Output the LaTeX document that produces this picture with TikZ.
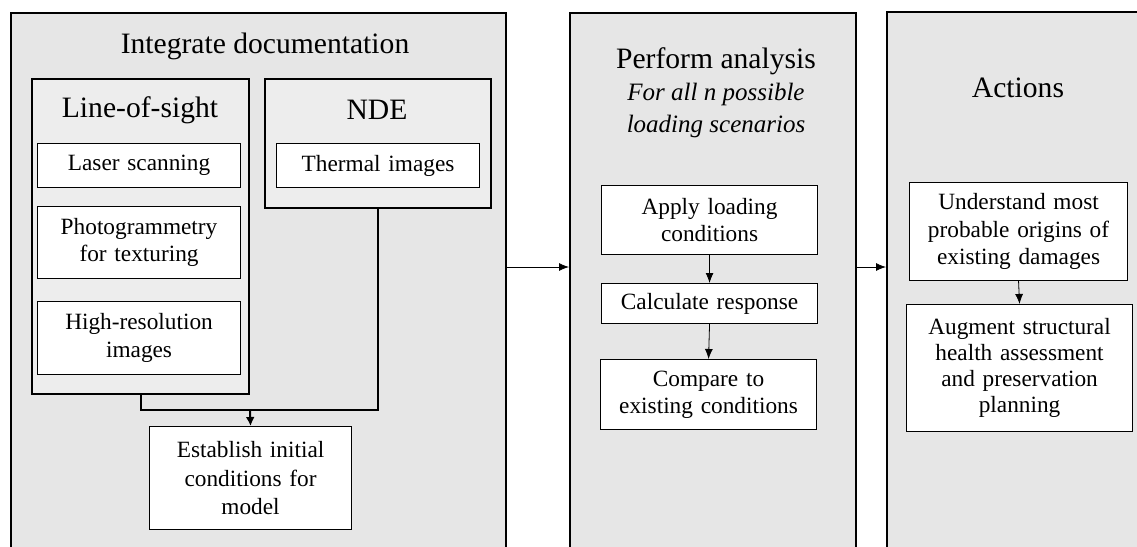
\documentclass[tikz,border=0pt]{standalone}
\usepackage{fontspec}
\setmainfont{Liberation Serif}
\usetikzlibrary{arrows.meta}
\definecolor{panelgray}{HTML}{E6E6E6}
\definecolor{innergray}{HTML}{EDEDED}
\tikzset{
  panel/.style={draw=black, line width=2pt, fill=panelgray, anchor=north west, inner sep=0pt},
  subpanel/.style={draw=black, line width=2pt, fill=innergray, anchor=north west, inner sep=0pt},
  wbox/.style={draw=black, line width=1.1pt, fill=white, anchor=north west, inner sep=0pt, align=center,
    font=\fontsize{23.3}{27.5}\selectfont},
  title/.style={font=\fontsize{29.6}{33}\selectfont, inner sep=0pt},
  subtitle/.style={font=\fontsize{25}{32}\selectfont\itshape, inner sep=0pt, align=center},
  thickline/.style={line width=2pt},
  thinarrow/.style={line width=0.8pt, -{Latex[length=10pt,width=8pt]}},
  thickarrow/.style={line width=2pt, -{Latex[length=9pt,width=9pt]}},
}
\begin{document}
\begin{tikzpicture}[x=1pt,y=1pt]
\useasboundingbox (0,0) rectangle (1137,-546);
\clip (0,0) rectangle (1137,-546);
% panels
\node[panel, minimum width=495pt, minimum height=560pt] (p1) at (10,-12) {};
\node[panel, minimum width=286pt, minimum height=560pt] (p2) at (569,-12) {};
\node[panel, minimum width=290pt, minimum height=560pt] (p3) at (886,-11) {};
% panel 1
\node[title] (t1) at (265,-46) {Integrate documentation};
\node[subpanel, minimum width=217pt, minimum height=315pt] (los) at (31,-78) {};
\node[subpanel, minimum width=226pt, minimum height=129pt] (nde) at (264,-78) {};
\node[title] (tlos) at (140,-110) {Line-of-sight};
\node[title] (tnde) at (377,-110) {NDE};
\node[wbox, minimum width=203pt, minimum height=44pt, text width=200pt] (laser) at (37,-143) {Laser scanning};
\node[wbox, minimum width=203pt, minimum height=44pt, text width=200pt] (therm) at (276,-143) {Thermal images};
\node[wbox, minimum width=203pt, minimum height=72pt, text width=200pt] (photo) at (37,-206) {Photogrammetry\\for texturing};
\node[wbox, minimum width=203pt, minimum height=73pt, text width=200pt] (hires) at (37,-301) {High-resolution\\images};
\node[wbox, minimum width=202pt, minimum height=103pt, text width=198pt, font=\fontsize{23.3}{28.5}\selectfont] (est) at (149,-426) {Establish initial\\conditions for\\model};
\coordinate (j) at (250,-410);
\draw[thickline] (los.south) |- (j);
\draw[thickline] (nde.south) |- (j);
\draw[thickarrow] (j) -- (est.north);
% panel 2
\node[title] (t2) at (716,-61) {Perform analysis};
\node[subtitle] (t2b) at (716,-110) {For all n possible\\loading scenarios};
\node[wbox, minimum width=216pt, minimum height=69pt, text width=212pt] (apply) at (601,-185) {Apply loading\\conditions};
\node[wbox, minimum width=216pt, minimum height=40pt, text width=212pt] (calc) at (601,-283) {Calculate response};
\node[wbox, minimum width=216pt, minimum height=70pt, text width=212pt] (comp) at (600,-359) {Compare to\\existing conditions};
\draw[thinarrow] (apply.south) -- (calc.north);
\draw[thinarrow] (calc.south) -- (comp.north);
% panel 3
\node[title] (t3) at (1018,-88) {Actions};
\node[wbox, minimum width=218pt, minimum height=98pt, text width=214pt] (under) at (909,-182) {Understand most\\probable origins of\\existing damages};
\node[wbox, minimum width=226pt, minimum height=127pt, text width=222pt, font=\fontsize{23.3}{25.8}\selectfont] (aug) at (906,-304) {Augment structural\\health assessment\\and preservation\\planning};
\draw[thinarrow] (under.south) -- (aug.north);
% inter-panel arrows
\coordinate (ya) at (0,-267);
\draw[thinarrow] (p1.east |- ya) -- (p2.west |- ya);
\draw[thinarrow] (p2.east |- ya) -- (p3.west |- ya);
\end{tikzpicture}
\end{document}
